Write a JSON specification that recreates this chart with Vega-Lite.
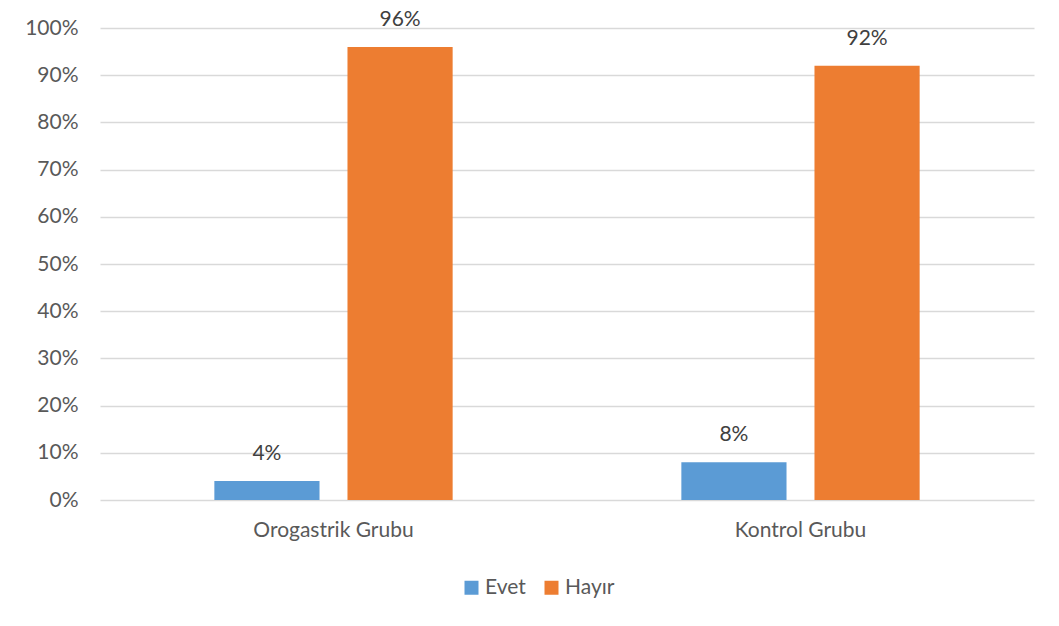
{
  "$schema": "https://vega.github.io/schema/vega-lite/v6.json",
  "autosize": {"type": "none"},
  "width": 934,
  "height": 472,
  "padding": {"left": 100, "top": 28, "right": 25, "bottom": 126},
  "background": "white",
  "config": {
    "font": "Lato",
    "view": {"stroke": null},
    "axis": {"labelFont": "Lato", "labelFontSize": 21, "labelColor": "#595959"}
  },
  "data": {
    "values": [
      {"grup": "Orogastrik Grubu", "cevap": "Evet", "oran": 0.04, "etiket": "4%"},
      {"grup": "Orogastrik Grubu", "cevap": "Hayır", "oran": 0.96, "etiket": "96%"},
      {"grup": "Kontrol Grubu", "cevap": "Evet", "oran": 0.08, "etiket": "8%"},
      {"grup": "Kontrol Grubu", "cevap": "Hayır", "oran": 0.92, "etiket": "92%"}
    ]
  },
  "encoding": {
    "x": {
      "field": "grup", "type": "nominal", "sort": ["Orogastrik Grubu", "Kontrol Grubu"],
      "scale": {"paddingInner": 0, "paddingOuter": 0},
      "axis": {"title": null, "labelAngle": 0, "ticks": false, "domain": false, "labelPadding": 19}
    },
    "xOffset": {
      "field": "cevap", "type": "nominal", "sort": ["Evet", "Hayır"],
      "scale": {"paddingInner": 0.21, "paddingOuter": 0.859}
    },
    "y": {
      "field": "oran", "type": "quantitative",
      "scale": {"domain": [0, 1]},
      "axis": {"title": null, "format": "%", "values": [0,0.1,0.2,0.3,0.4,0.5,0.6,0.7,0.8,0.9,1], "labelOverlap": false, "ticks": false, "domain": false, "labelPadding": 22, "gridColor": "#D9D9D9", "gridWidth": 1.5}
    }
  },
  "layer": [
    {
      "mark": {"type": "bar"},
      "encoding": {
        "color": {
          "field": "cevap", "type": "nominal", "sort": ["Evet", "Hayır"],
          "scale": {"domain": ["Evet", "Hayır"], "range": ["#5B9BD5", "#ED7D31"]},
          "legend": {
            "title": null, "orient": "none", "direction": "horizontal",
            "legendX": 361, "legendY": 549, "padding": 0,
            "symbolType": "square", "symbolSize": 196, "symbolStrokeWidth": 0,
            "labelFontSize": 21, "labelColor": "#595959", "labelFont": "Lato",
            "columnPadding": 15, "labelOffset": 3
          }
        }
      }
    },
    {
      "mark": {"type": "text", "dy": -27, "fontSize": 21, "color": "#404040", "font": "Lato"},
      "encoding": {"text": {"field": "etiket"}}
    }
  ]
}
